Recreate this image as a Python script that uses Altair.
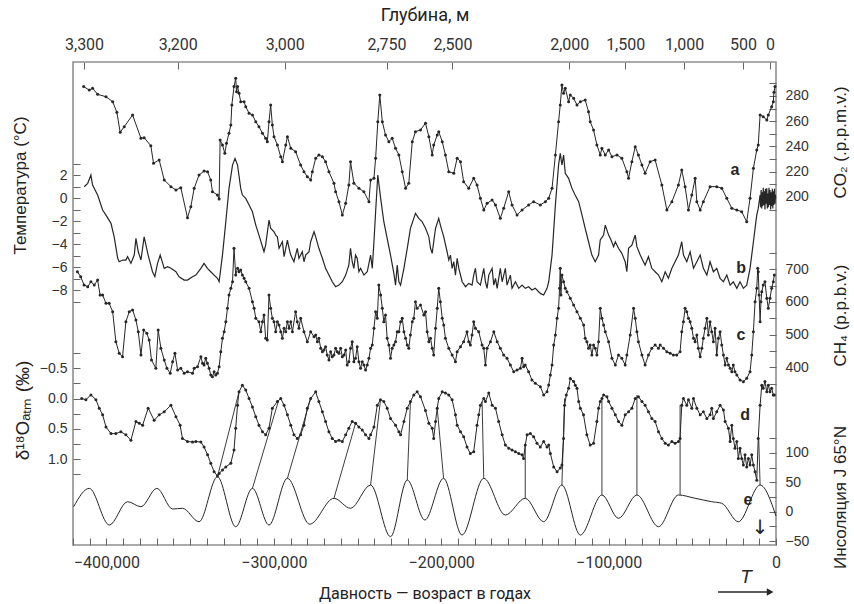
import altair as alt
import pandas as pd

# ---------------- data ----------------
DEPTH_LABELS = ["3,300", "3,200", "3,000", "2,750", "2,500", "2,000", "1,500", "1,000", "500", "0"]
DEPTH_AGE = [-413400, -357400, -293500, -232700, -193300, -123500, -90100, -54900, -19700, -3600]

# a: CO2 (ppmv), age in kyr
CO2_AGE = [-413.6, -410.3, -408.3, -405.3, -400.3, -396.3, -393.8, -391.8, -389.4, -384.4, -379.4, -377.5,
           -373.5, -371.9, -368.5, -365.5, -361.5, -358.5, -355.6, -351.6, -349.6, -347.6, -344.7, -341.7,
           -339.6, -337.7, -336.7, -333.7, -332.7, -332.1, -330.7, -329.3, -328.3, -326.8, -325.7, -325.1,
           -323.8, -322.8, -322.3, -321.7, -320.8, -319.8, -317.8, -316.8, -314.8, -312.8, -310.8, -308.9,
           -306.8, -304.9, -303.9, -302.9, -301.9, -300.9, -299.9, -297.9, -295.9, -294.9, -292.9, -291.9,
           -289.9, -287.0, -284.0, -282.0, -280.0, -278.0, -277.0, -275.0, -273.1, -271.0, -269.1, -267.1,
           -264.1, -263.1, -261.1, -259.1, -257.1, -255.2, -254.2, -252.2, -249.2, -246.2, -243.2, -242.2,
           -240.2, -239.2, -237.9, -236.7, -235.2, -233.3, -231.3, -229.3, -227.3, -225.3, -223.3, -221.3,
           -219.4, -217.3, -215.4, -212.4, -209.4, -207.4, -205.4, -204.5, -202.4, -201.5, -199.4, -197.5,
           -195.5, -192.5, -190.5, -188.5, -186.6, -183.6, -180.6, -178.6, -176.6, -174.6, -172.6, -169.6,
           -167.6, -164.7, -162.7, -159.7, -157.7, -154.7, -151.7, -147.8, -144.8, -140.8, -137.8, -135.8,
           -133.8, -131.8, -129.9, -128.9, -127.9, -126.9, -125.9, -123.9, -122.9, -120.9, -118.9, -116.9,
           -114.0, -112.0, -111.0, -109.0, -107.0, -105.0, -104.0, -102.0, -100.0, -98.0, -95.0, -92.1,
           -89.1, -88.1, -86.1, -84.1, -82.2, -80.1, -78.2, -75.2, -72.2, -68.2, -65.2, -62.2,
           -58.3, -56.3, -54.3, -52.3, -50.3, -48.3, -47.3, -45.3, -43.4, -39.4, -35.4, -32.4,
           -29.4, -26.4, -23.4, -20.5, -17.5, -15.5, -13.5, -11.5, -10.6, -9.5, -7.6, -5.5,
           -4.6, -2.6, -1.6, -1.2, -0.6]
CO2_PPMV = [287.4, 284.7, 286.1, 281.3, 279.4, 275.5, 267.1, 251.2, 255.7, 264.9, 246.5, 247.0,
            240.6, 226.7, 229.3, 213.5, 208.2, 205.5, 207.4, 183.6, 192.3, 206.9, 217.4, 220.6,
            220.0, 213.5, 204.2, 201.6, 198.4, 245.1, 241.2, 234.6, 242.5, 250.5, 257.0, 272.9,
            287.4, 294.0, 283.4, 287.4, 282.1, 275.5, 275.5, 271.5, 266.3, 264.9, 259.6, 255.7,
            250.5, 246.5, 243.8, 259.6, 272.9, 257.0, 247.8, 241.2, 231.9, 228.0, 241.2, 247.8,
            238.6, 235.9, 225.3, 220.0, 216.1, 213.5, 220.0, 230.7, 233.3, 231.9, 228.0, 220.0,
            210.9, 204.2, 196.3, 185.7, 195.0, 209.5, 228.0, 210.9, 206.9, 204.2, 196.3, 213.5,
            214.8, 230.7, 259.6, 280.8, 259.6, 249.1, 243.8, 246.5, 238.6, 233.3, 220.0, 206.9,
            210.9, 243.8, 251.7, 253.1, 258.4, 247.8, 233.3, 241.2, 249.1, 251.7, 243.8, 233.3,
            220.0, 218.8, 230.7, 228.0, 212.1, 206.9, 214.8, 209.5, 199.0, 189.7, 195.0, 197.6,
            193.7, 183.1, 191.0, 204.2, 193.7, 185.7, 189.7, 193.7, 196.3, 193.7, 196.3, 199.0,
            206.9, 233.3, 259.6, 272.9, 288.7, 282.1, 286.1, 275.5, 280.8, 278.2, 272.9, 275.5,
            276.8, 267.6, 259.6, 253.1, 241.2, 233.3, 238.6, 233.3, 237.2, 231.9, 233.3, 230.7,
            220.0, 214.8, 228.0, 239.8, 233.3, 225.3, 218.8, 228.0, 229.3, 209.5, 189.7, 196.3,
            209.5, 221.4, 208.2, 189.7, 201.6, 214.8, 196.3, 189.7, 196.3, 208.2, 208.2, 206.9,
            199.0, 191.0, 189.7, 188.4, 180.4, 199.0, 222.7, 237.2, 241.2, 264.9, 263.6, 261.0,
            264.9, 271.5, 275.5, 283.0, 287.4]

# b: temperature anomaly (deg C)
TEMP_AGE = [-413.3, -411.2, -409.3, -408.3, -405.3, -402.3, -400.3, -397.3, -395.4, -393.3, -392.4, -390.4,
            -388.4, -387.4, -385.4, -383.4, -382.4, -381.0, -379.4, -377.5, -375.1, -372.5, -371.1, -369.5,
            -367.9, -365.5, -363.5, -361.5, -358.5, -356.6, -353.6, -351.6, -348.6, -346.6, -343.6, -341.7,
            -339.7, -337.7, -335.7, -333.7, -332.7, -330.7, -328.7, -326.8, -324.7, -323.2, -321.7, -319.8,
            -318.8, -316.8, -314.8, -312.8, -310.8, -308.9, -305.9, -304.9, -302.9, -301.9, -299.9, -298.9,
            -297.9, -296.9, -294.9, -293.9, -291.9, -290.9, -289.9, -288.0, -286.0, -285.0, -283.0, -282.0,
            -281.0, -279.0, -278.0, -276.0, -275.0, -273.1, -271.0, -269.1, -267.1, -265.1, -263.1, -261.1,
            -259.1, -257.1, -255.2, -254.2, -253.2, -252.2, -251.2, -250.2, -249.2, -248.2, -246.2, -244.2,
            -242.2, -241.2, -240.2, -239.2, -237.9, -236.2, -234.3, -232.3, -230.3, -228.3, -227.3, -226.3,
            -225.3, -224.3, -222.3, -220.3, -218.4, -216.4, -215.4, -213.4, -211.4, -209.4, -207.4, -206.4,
            -205.4, -204.5, -203.4, -201.5, -200.5, -198.5, -196.5, -195.5, -194.5, -193.5, -192.5, -191.5,
            -190.5, -189.5, -187.5, -185.5, -183.6, -181.6, -180.6, -179.6, -178.6, -176.6, -174.6, -173.6,
            -172.6, -171.6, -169.6, -168.6, -167.6, -166.6, -164.7, -163.6, -161.7, -160.7, -158.7, -157.7,
            -155.7, -153.7, -151.7, -149.8, -147.8, -145.8, -143.8, -140.8, -138.8, -136.8, -135.8, -133.8,
            -131.8, -129.9, -128.9, -127.9, -126.9, -125.9, -123.9, -121.9, -120.0, -117.9, -115.9, -114.0,
            -112.0, -110.0, -108.0, -106.0, -105.0, -103.0, -102.0, -100.0, -99.0, -97.0, -96.0, -94.1,
            -92.1, -90.1, -89.1, -88.1, -86.1, -85.1, -84.1, -83.1, -81.1, -79.2, -78.2, -76.2,
            -74.2, -72.2, -70.2, -68.2, -66.2, -64.3, -62.2, -60.3, -58.3, -56.3, -55.3, -53.3,
            -51.3, -49.3, -47.3, -45.3, -43.4, -41.3, -39.4, -37.4, -35.4, -33.4, -31.4, -29.4,
            -27.4, -25.5, -23.4, -21.5, -19.5, -17.5, -15.5, -14.5, -13.5, -12.5, -11.5, -10.6,
            -9.5, -9.2, -8.9, -8.5, -8.2, -7.9, -7.6, -7.3, -6.9, -6.6, -6.3, -5.9,
            -5.5, -5.2, -4.9, -4.6, -4.2, -3.9, -3.6, -3.2, -2.9, -2.6, -2.2, -1.9,
            -1.6, -1.3, -0.9, -0.6, -0.3]
TEMP_C = [0.98, 1.28, 2.0, 1.13, 0.26, -1.04, -1.48, -2.2, -3.37, -5.24, -5.54, -5.39,
          -5.39, -5.1, -5.68, -4.96, -3.5, -4.67, -5.39, -3.37, -4.96, -6.41, -6.84, -5.68,
          -4.96, -6.11, -5.97, -6.11, -6.41, -6.84, -7.13, -7.13, -6.84, -6.7, -6.11, -5.68,
          -6.11, -6.41, -6.7, -6.98, -7.28, -4.96, -2.06, 0.84, 2.87, 3.45, 2.87, 0.84,
          0.26, -0.03, -0.61, -1.19, -2.35, -3.22, -4.67, -4.09, -1.91, -2.63, -2.93, -3.22,
          -3.37, -4.37, -3.8, -5.1, -3.65, -4.37, -4.96, -5.54, -4.37, -5.24, -4.67, -5.54,
          -4.96, -4.67, -3.8, -2.93, -3.37, -4.37, -5.24, -6.11, -6.7, -7.28, -7.71, -7.57,
          -7.28, -6.7, -5.83, -4.37, -5.54, -6.11, -4.96, -5.24, -6.41, -6.11, -6.7, -6.41,
          -4.96, -6.11, -3.8, -1.19, 2.0, -0.03, -2.06, -3.5, -4.96, -6.55, -7.57, -5.83,
          -7.28, -7.57, -6.11, -4.37, -2.63, -1.77, -1.33, -1.77, -2.06, -2.63, -3.37, -4.37,
          -4.81, -3.8, -2.63, -1.77, -2.35, -3.37, -4.67, -5.39, -4.96, -6.11, -5.54, -6.7,
          -5.24, -6.11, -7.28, -7.71, -7.42, -7.57, -6.7, -6.11, -7.28, -7.57, -6.11, -7.28,
          -7.85, -6.7, -6.11, -7.57, -6.98, -7.85, -6.11, -7.28, -6.11, -7.57, -6.7, -7.85,
          -7.28, -7.85, -7.57, -7.85, -7.71, -8.0, -7.85, -8.29, -8.43, -7.85, -7.28, -4.96,
          -0.61, 2.87, 3.89, 2.87, 3.74, 2.15, 1.71, 0.84, 0.26, -0.32, -1.48, -2.63,
          -3.8, -4.96, -5.54, -4.96, -3.65, -3.22, -2.35, -3.22, -3.5, -4.23, -3.8, -4.37,
          -4.81, -5.54, -6.41, -4.37, -4.09, -3.65, -3.22, -4.23, -4.96, -5.54, -5.83, -5.1,
          -6.11, -6.41, -6.7, -7.28, -6.41, -6.98, -6.11, -5.54, -4.96, -3.8, -4.96, -5.54,
          -4.67, -6.11, -5.54, -4.96, -6.11, -6.7, -5.54, -6.41, -6.11, -6.98, -7.28, -6.7,
          -7.57, -7.28, -7.85, -7.28, -7.85, -7.57, -6.11, -4.96, -3.8, -2.63, -1.48, -0.9,
          0.26, -0.8, 0.7, -0.9, 0.5, -0.7, 0.9, -0.6, 0.6, -1.0, 0.8, -0.5,
          0.84, -0.9, 0.4, -0.8, 0.9, -0.6, 0.7, -1.0, 0.5, -0.7, 0.8, -0.9,
          0.6, -0.6, 0.8, -0.5, 0.3]

# c: CH4 (ppbv)
CH4_AGE = [-417.4, -415.4, -413.4, -411.2, -409.3, -407.3, -405.3, -403.8, -402.3, -400.3, -398.4, -396.3,
           -394.4, -392.4, -390.4, -388.4, -386.4, -384.4, -382.4, -381.0, -379.4, -377.8, -375.9, -374.5,
           -373.1, -370.5, -369.1, -367.5, -365.5, -363.9, -361.9, -360.5, -359.1, -357.5, -355.6, -353.6,
           -351.6, -348.6, -347.6, -345.6, -343.6, -342.6, -341.7, -340.7, -339.7, -338.7, -337.7, -336.7,
           -335.7, -334.7, -333.7, -332.7, -331.7, -330.7, -329.7, -328.7, -327.7, -326.8, -325.7, -324.7,
           -323.8, -322.8, -321.7, -320.8, -319.8, -318.8, -317.8, -316.8, -314.8, -312.8, -311.8, -310.8,
           -308.9, -307.8, -306.8, -305.9, -304.9, -303.9, -302.9, -301.9, -300.9, -299.9, -298.9, -297.9,
           -296.9, -295.9, -294.9, -293.9, -292.9, -291.9, -290.9, -289.9, -288.9, -287.0, -286.0, -285.0,
           -284.0, -282.0, -280.0, -278.0, -276.0, -275.0, -274.0, -273.1, -272.0, -271.0, -270.1, -269.1,
           -268.1, -267.1, -266.1, -265.1, -264.1, -263.1, -262.1, -261.1, -260.1, -259.1, -258.1, -257.1,
           -256.2, -255.2, -254.2, -253.2, -252.2, -251.2, -250.2, -249.2, -248.2, -247.2, -246.2, -245.2,
           -244.2, -243.2, -242.2, -241.2, -240.2, -239.2, -238.2, -237.3, -236.2, -235.2, -234.3, -233.3,
           -232.3, -231.3, -230.3, -229.3, -228.3, -227.3, -226.3, -225.3, -224.3, -223.3, -222.3, -221.3,
           -220.3, -219.4, -218.4, -217.3, -216.4, -215.4, -214.4, -212.4, -210.4, -209.4, -208.4, -207.4,
           -206.4, -205.4, -204.5, -203.4, -202.4, -201.5, -200.5, -199.4, -198.5, -197.5, -195.5, -193.5,
           -191.5, -190.5, -188.5, -186.6, -184.6, -183.6, -182.6, -181.6, -180.6, -179.6, -177.6, -175.6,
           -174.6, -173.6, -172.6, -170.6, -168.6, -166.6, -164.7, -162.7, -160.7, -158.7, -156.7, -154.7,
           -152.7, -151.7, -150.8, -149.8, -147.8, -145.8, -143.8, -140.8, -138.8, -136.8, -135.8, -134.8,
           -133.8, -132.8, -131.8, -130.8, -129.9, -129.3, -128.9, -128.5, -127.9, -126.9, -125.9, -124.9,
           -122.9, -120.9, -118.9, -116.9, -114.9, -114.0, -113.0, -112.0, -111.0, -110.0, -109.0, -108.0,
           -107.0, -106.0, -105.0, -104.0, -103.0, -102.0, -100.0, -98.0, -96.0, -94.1, -92.1, -90.1,
           -89.1, -87.1, -85.1, -84.1, -83.1, -82.2, -80.1, -78.2, -76.2, -74.2, -72.2, -70.2,
           -69.2, -67.2, -65.2, -63.2, -61.3, -59.3, -57.3, -56.3, -55.3, -54.3, -53.3, -52.3,
           -51.3, -50.3, -49.3, -48.3, -47.3, -46.4, -45.3, -44.3, -43.4, -42.4, -41.3, -40.4,
           -39.4, -38.4, -37.4, -36.4, -35.4, -34.4, -33.4, -32.4, -31.4, -30.4, -29.4, -28.4,
           -27.4, -26.4, -25.5, -24.5, -23.4, -21.5, -19.5, -17.5, -15.5, -14.5, -13.5, -12.5,
           -11.5, -10.9, -10.6, -10.1, -9.5, -9.0, -8.5, -7.6, -6.6, -5.5, -4.6, -3.6,
           -2.6, -1.6, -1.0]
CH4_PPBV = [692.6, 677.3, 651.9, 646.7, 662.0, 651.9, 667.2, 621.3, 621.3, 595.9, 595.9, 570.2,
            478.4, 442.9, 432.4, 539.6, 570.2, 575.4, 544.8, 509.0, 437.7, 514.2, 504.1, 483.6,
            422.3, 396.9, 514.2, 458.2, 422.3, 396.9, 381.6, 417.1, 442.9, 391.7, 396.9, 381.6,
            386.5, 381.6, 396.9, 401.8, 432.4, 412.2, 407.0, 427.5, 412.2, 396.9, 376.4, 371.2,
            386.5, 376.4, 381.6, 401.8, 447.8, 488.8, 509.0, 539.6, 580.6, 621.3, 641.8, 662.0,
            764.3, 682.5, 703.0, 692.6, 697.8, 682.5, 672.4, 662.0, 641.8, 600.8, 580.6, 550.0,
            539.6, 509.0, 539.6, 560.1, 488.8, 483.6, 621.3, 580.6, 550.0, 539.6, 509.0, 539.6,
            529.5, 509.0, 488.8, 519.4, 509.0, 539.6, 519.4, 539.6, 509.0, 570.2, 539.6, 519.4,
            550.0, 509.0, 478.4, 509.0, 493.7, 498.9, 478.4, 488.8, 458.2, 447.8, 453.0, 463.1,
            437.7, 422.3, 447.8, 432.4, 437.7, 458.2, 447.8, 442.9, 458.2, 432.4, 437.7, 453.0,
            407.0, 417.1, 458.2, 478.4, 417.1, 427.5, 463.1, 417.1, 396.9, 417.1, 407.0, 391.7,
            407.0, 427.5, 458.2, 468.3, 519.4, 570.2, 550.0, 651.9, 621.3, 580.6, 539.6, 560.1,
            488.8, 468.3, 427.5, 458.2, 468.3, 478.4, 509.0, 509.0, 539.6, 550.0, 509.0, 488.8,
            468.3, 458.2, 498.9, 539.6, 550.0, 600.8, 580.6, 590.7, 560.1, 570.2, 509.0, 478.4,
            488.8, 458.2, 437.7, 519.4, 580.6, 641.8, 600.8, 550.0, 529.5, 488.8, 458.2, 437.7,
            417.1, 447.8, 463.1, 478.4, 509.0, 478.4, 468.3, 498.9, 539.6, 519.4, 509.0, 468.3,
            458.2, 407.0, 458.2, 478.4, 509.0, 478.4, 458.2, 437.7, 427.5, 407.0, 386.5, 391.7,
            396.9, 427.5, 401.8, 407.0, 386.5, 361.1, 351.0, 340.6, 315.2, 325.3, 345.8, 376.4,
            407.0, 468.3, 498.9, 550.0, 580.6, 641.8, 703.0, 621.3, 682.5, 662.0, 641.8, 631.4,
            611.2, 590.7, 570.2, 550.0, 529.5, 488.8, 478.4, 458.2, 468.3, 437.7, 468.3, 458.2,
            437.7, 478.4, 580.6, 550.0, 529.5, 509.0, 478.4, 427.5, 407.0, 437.7, 427.5, 407.0,
            437.7, 498.9, 580.6, 550.0, 509.0, 478.4, 437.7, 407.0, 437.7, 458.2, 468.3, 458.2,
            468.3, 458.2, 447.8, 442.9, 437.7, 437.7, 447.8, 509.0, 539.6, 580.6, 570.2, 550.0,
            539.6, 519.4, 488.8, 478.4, 498.9, 458.2, 432.4, 458.2, 488.8, 519.4, 550.0, 498.9,
            539.6, 509.0, 478.4, 519.4, 437.7, 488.8, 509.0, 468.3, 437.7, 407.0, 427.5, 407.0,
            396.9, 386.5, 407.0, 386.5, 376.4, 361.1, 355.9, 366.3, 386.5, 437.7, 509.0, 600.8,
            641.8, 703.0, 692.6, 621.3, 539.6, 600.8, 631.4, 651.9, 662.0, 611.2, 580.6, 611.2,
            641.8, 662.0, 682.5]

# d: delta-18O of atmospheric O2 (permil)
D18O_AGE = [-414.8, -412.3, -409.3, -406.3, -404.3, -402.3, -400.3, -397.3, -394.4, -391.4, -388.4, -385.4,
            -382.4, -380.4, -378.4, -375.1, -371.5, -368.5, -365.5, -361.5, -358.5, -356.0, -354.6, -351.6,
            -348.6, -346.6, -343.6, -341.7, -339.6, -337.7, -335.7, -333.7, -332.7, -330.7, -328.7, -325.7,
            -323.8, -322.8, -321.7, -320.8, -318.8, -316.8, -314.8, -312.8, -310.8, -308.9, -306.8, -304.9,
            -302.9, -300.9, -297.9, -295.9, -293.9, -291.9, -289.9, -288.0, -286.0, -284.0, -282.0, -280.0,
            -278.0, -275.0, -273.1, -271.0, -269.1, -267.1, -265.1, -263.1, -261.1, -259.1, -257.1, -255.2,
            -253.2, -251.2, -249.2, -247.2, -245.2, -243.2, -242.2, -240.2, -238.2, -236.3, -234.3, -232.3,
            -230.3, -227.3, -225.3, -224.3, -222.3, -220.3, -218.4, -216.4, -214.4, -212.4, -209.4, -207.4,
            -205.4, -204.5, -203.4, -202.4, -201.5, -199.4, -197.5, -195.5, -193.5, -191.5, -190.5, -188.5,
            -186.6, -184.6, -182.6, -180.6, -178.6, -177.6, -176.6, -174.6, -173.6, -171.6, -169.6, -167.6,
            -165.7, -163.6, -161.7, -159.7, -157.7, -155.7, -153.7, -151.7, -150.8, -149.8, -148.7, -146.8,
            -144.8, -142.8, -140.8, -138.8, -136.8, -135.8, -134.8, -132.8, -130.8, -128.9, -127.9, -126.9,
            -126.3, -125.3, -123.9, -122.9, -120.9, -119.9, -118.9, -117.9, -116.9, -115.0, -113.0, -111.0,
            -109.0, -107.0, -106.0, -105.0, -104.0, -103.0, -101.0, -100.0, -98.0, -96.0, -94.1, -92.1,
            -90.1, -88.1, -86.1, -84.1, -82.2, -80.1, -78.2, -76.2, -74.2, -72.2, -70.2, -68.2,
            -66.2, -64.3, -62.2, -60.3, -58.3, -57.3, -56.3, -55.3, -53.3, -52.3, -50.3, -49.3,
            -47.3, -45.3, -43.4, -41.3, -39.4, -38.4, -37.4, -35.4, -33.4, -31.4, -30.4, -28.4,
            -27.4, -26.4, -25.5, -24.5, -23.4, -22.5, -21.5, -20.5, -19.5, -18.5, -17.5, -16.5,
            -15.5, -14.5, -13.5, -12.5, -11.5, -10.6, -9.5, -8.5, -7.6, -6.6, -5.5, -4.6,
            -3.6, -2.6, -1.6, -1.0]
D18O_PERMIL = [0.00, 0.02, -0.06, 0.02, 0.16, 0.27, 0.47, 0.58, 0.58, 0.55, 0.60, 0.69,
               0.38, 0.41, 0.44, 0.16, 0.36, 0.27, 0.22, 0.11, 0.30, 0.44, 0.66, 0.71,
               0.72, 0.71, 0.72, 0.80, 0.93, 1.07, 1.21, 1.28, 1.24, 1.18, 1.13, 1.07,
               0.85, 0.49, 0.11, -0.11, -0.22, -0.14, 0.00, 0.14, 0.30, 0.44, 0.55, 0.60,
               0.49, 0.16, 0.05, 0.00, 0.11, 0.27, 0.44, 0.60, 0.66, 0.60, 0.44, 0.16,
               0.00, -0.11, 0.05, 0.22, 0.38, 0.55, 0.66, 0.71, 0.69, 0.71, 0.60, 0.49,
               0.38, 0.41, 0.47, 0.52, 0.60, 0.66, 0.60, 0.47, 0.11, 0.02, 0.05, 0.16,
               0.33, 0.44, 0.55, 0.60, 0.38, 0.16, 0.05, -0.06, -0.11, -0.03, 0.20, 0.41,
               0.49, 0.66, 0.38, 0.16, 0.00, -0.11, -0.09, -0.06, 0.02, 0.27, 0.44, 0.55,
               0.63, 0.80, 0.91, 0.88, 0.44, 0.27, 0.11, 0.00, 0.05, -0.09, 0.11, 0.16,
               0.38, 0.60, 0.77, 0.82, 0.85, 0.88, 0.91, 0.93, 0.99, 0.77, 0.60, 0.58,
               0.63, 0.74, 0.80, 0.71, 0.80, 0.77, 0.91, 1.13, 1.21, 1.15, 1.10, 0.66,
               0.11, -0.06, -0.17, -0.33, -0.28, -0.22, -0.17, 0.05, 0.16, 0.27, 0.60, 0.77,
               0.74, 0.38, 0.16, 0.05, 0.00, -0.06, -0.03, 0.05, 0.16, 0.27, 0.38, 0.44,
               0.27, 0.22, 0.16, 0.00, -0.03, 0.05, 0.11, 0.22, 0.33, 0.38, 0.55, 0.66,
               0.74, 0.77, 0.71, 0.74, 0.71, 0.66, 0.11, 0.00, 0.11, 0.02, 0.16, 0.00,
               0.16, 0.27, 0.22, 0.33, 0.27, 0.16, 0.33, 0.22, 0.11, 0.19, 0.38, 0.49,
               0.71, 0.44, 0.66, 0.82, 0.71, 0.99, 0.82, 0.99, 1.10, 0.93, 1.13, 0.99,
               1.10, 0.93, 1.10, 1.21, 1.35, 0.66, 0.11, -0.22, -0.17, -0.28, -0.11, -0.22,
               -0.11, -0.17, -0.06, -0.06]

# e: insolation J 65N anomaly (W/m2)
INSOL_AGE = [-419.6, -410.3, -398.3, -387.4, -379.4, -369.9, -360.5, -354.6, -344.7, -333.7, -322.8, -312.8,
             -302.9, -291.9, -278.6, -264.1, -254.2, -242.2, -230.3, -220.3, -209.8, -198.6, -187.6, -174.6,
             -161.7, -149.8, -138.8, -127.9, -116.9, -104.0, -94.1, -83.1, -70.2, -58.3, -48.3, -38.4,
             -32.4, -22.5, -9.5, 0.0]
INSOL_WM2 = [8.5, 39.7, -22.6, 17.0, 8.5, 39.7, 4.6, 5.8, -17.0, 59.4, -25.5, 39.7,
             -22.6, 56.7, -21.2, 22.8, 5.8, 45.3, -42.4, 53.8, -14.1, 56.7, -39.6, 56.7,
             -5.6, 22.8, -17.0, 45.3, -39.6, 28.4, -11.2, 28.4, -25.5, 28.4, 22.8, 17.0,
             14.3, -17.0, 45.3, -7.3]

# tie lines between curve d and curve e (expressed on the insolation scale)
TIE_AGE_TOP = [-320.8, -297.1, -278.0, -251.2, -236.3, -218.4, -202.4, -175.6, -149.8, -126.3, -104.0, -83.1, -57.3, -10.3]
TIE_VAL_TOP = [203.5, 189.6, 192.5, 150.1, 189.6, 186.8, 175.6, 186.8, 113.2, 192.5, 192.5, 198.1, 181.2, 121.7]
TIE_AGE_BOT = [-333.7, -312.8, -291.9, -264.1, -242.2, -220.3, -198.6, -174.6, -149.8, -127.9, -104.0, -83.1, -57.3, -9.5]
TIE_VAL_BOT = [59.4, 39.7, 56.7, 22.8, 45.3, 53.8, 56.7, 56.7, 22.8, 45.3, 28.4, 28.4, 28.4, 45.3]

# curve letters: (label, age kyr, value on the curve's own scale)
LETTER_A = ("a", -24.5, 221.4)
LETTER_B = ("b", -20.9, -6.09)
LETTER_C = ("c", -20.9, 498.9)
LETTER_D = ("d", -18.5, 0.273)
LETTER_E = ("e", -16.7, 19.9)

# ---------------- scales ----------------
X_DOM = [-420000, 0]
CO2_DOM = [-75.6, 306.9]
TEMP_DOM = [-30.17, 11.83]
CH4_DOM = [-143.9, 1334.5]
D18O_DOM = [-5.562, 2.421]
INS_DOM = [-56.5, 763.5]

NUM_FONT = "Liberation Sans, Arial, sans-serif"
NARROW_FONT = "Liberation Sans Narrow, Roboto, sans-serif"
INK = "#262626"
TICK = "#666666"


def frame(ages, vals):
    return pd.DataFrame({"t": [a * 1000 for a in ages], "v": vals})


def xsc():
    return alt.Scale(domain=X_DOM, nice=False, zero=False)


def ysc(dom, reverse=False):
    if reverse:
        return alt.Scale(domain=dom, nice=False, zero=False, reverse=True)
    return alt.Scale(domain=dom, nice=False, zero=False)


def yaxis(orient, values, test, fmt, title, tx, ty, tsize=17):
    left = orient == "left"
    return alt.Axis(
        orient=orient, values=values,
        labelExpr=f"({test}) ? format(datum.value, '{fmt}') : ''",
        offset=-7, tickSize=7, tickColor=TICK, tickWidth=1, domain=False, grid=False,
        labelPadding=6 if left else 9, labelFont=NUM_FONT, labelFontSize=14, labelColor="#333",
        labelOverlap=False, labelFlush=False,
        title=title, titleAngle=270, titleX=tx, titleY=ty, titleAlign="center", titleBaseline="middle",
        titleFont=NUM_FONT, titleFontSize=tsize, titleFontWeight="normal", titleColor="#222",
    )


bottom_axis = alt.Axis(
    orient="bottom", values=list(range(-420000, 1, 10000)),
    labelExpr="(datum.value % 100000 == 0) ? format(datum.value, ',') : ''",
    offset=-7, tickSize=7, tickColor=TICK, domain=False, grid=False,
    labelPadding=9, labelFont=NARROW_FONT, labelFontSize=16, labelColor="#333",
    labelOverlap=False, labelFlush=False,
    title="Давность — возраст в годах", titleY=55, titleBaseline="middle",
    titleFont=NARROW_FONT, titleFontSize=16, titleFontWeight="normal", titleColor="#222",
)

depth_expr = "".join(
    f"datum.value == {a} ? '{l}' : " for a, l in zip(DEPTH_AGE, DEPTH_LABELS)
) + "''"
top_axis = alt.Axis(
    orient="top", values=DEPTH_AGE, labelExpr=depth_expr,
    offset=-7, tickSize=7, tickColor=TICK, domain=False, grid=False,
    labelPadding=10, labelFont=NARROW_FONT, labelFontSize=16, labelColor="#333",
    labelOverlap=False, labelFlush=False,
    title="Глубина, м", titleY=-54, titleBaseline="middle",
    titleFont=NARROW_FONT, titleFontSize=18, titleFontWeight="normal", titleColor="#222",
)

# ---------------- layers ----------------
pt = alt.OverlayMarkDef(filled=True, size=9, color=INK)

co2 = alt.Chart(frame(CO2_AGE, CO2_PPMV)).mark_line(color=INK, strokeWidth=1, point=pt).encode(
    x=alt.X("t:Q", scale=xsc(), axis=bottom_axis),
    y=alt.Y("v:Q", scale=ysc(CO2_DOM), axis=yaxis(
        "right", list(range(190, 300, 10)),
        "datum.value % 20 == 0 && datum.value >= 200 && datum.value <= 280", "d",
        "CO₂ (.p.p.m.v.)", 71, 80)),
)

temp = alt.Chart(frame(TEMP_AGE, TEMP_C)).mark_line(color=INK, strokeWidth=1.2).encode(
    x=alt.X("t:Q", scale=xsc(), axis=top_axis),
    y=alt.Y("v:Q", scale=ysc(TEMP_DOM), axis=yaxis(
        "left", list(range(-9, 4)), "datum.value % 2 == 0", "d",
        "Температура (°C)", -60, 123)),
)

ch4 = alt.Chart(frame(CH4_AGE, CH4_PPBV)).mark_line(color=INK, strokeWidth=1, point=pt).encode(
    x=alt.X("t:Q", scale=xsc(), axis=None),
    y=alt.Y("v:Q", scale=ysc(CH4_DOM), axis=yaxis(
        "right", list(range(350, 751, 50)),
        "datum.value % 100 == 0 && datum.value >= 400 && datum.value <= 700", "d",
        "CH₄ (p.p.b.v.)", 71, 253)),
)

d18o = alt.Chart(frame(D18O_AGE, D18O_PERMIL)).mark_line(color=INK, strokeWidth=1, point=pt).encode(
    x=alt.X("t:Q", scale=xsc(), axis=None),
    y=alt.Y("v:Q", scale=ysc(D18O_DOM, reverse=True), axis=yaxis(
        "left", [-0.75, -0.5, -0.25, 0.0, 0.25, 0.5, 0.75, 1.0, 1.25],
        "abs(datum.value * 2 - round(datum.value * 2)) < 0.000001", ".1f",
        "δ¹⁸Oₐₜₘ (‰)", -58, 348, 19)),
)

insol = alt.Chart(frame(INSOL_AGE, INSOL_WM2)).mark_line(color=INK, strokeWidth=1, interpolate="monotone").encode(
    x=alt.X("t:Q", scale=xsc(), axis=None),
    y=alt.Y("v:Q", scale=ysc(INS_DOM), axis=yaxis(
        "right", list(range(-50, 126, 25)),
        "datum.value % 50 == 0 && datum.value <= 100", "d",
        "Инсоляция J 65°N", 71, 435)),
)

ties_df = pd.DataFrame({
    "t": [a * 1000 for a in TIE_AGE_TOP], "t2": [a * 1000 for a in TIE_AGE_BOT],
    "v": TIE_VAL_TOP, "v2": TIE_VAL_BOT,
})
ties = alt.Chart(ties_df).mark_rule(color=INK, strokeWidth=0.9).encode(
    x=alt.X("t:Q", scale=xsc(), axis=None), x2="t2:Q",
    y=alt.Y("v:Q", scale=ysc(INS_DOM), axis=None), y2="v2:Q",
)


def letter(spec, dom, reverse=False):
    lab, age, val = spec
    df = pd.DataFrame({"t": [age * 1000], "v": [val], "lab": [lab]})
    return alt.Chart(df).mark_text(font=NUM_FONT, fontSize=16, fontWeight="bold", color=INK,
                                   align="center", baseline="middle").encode(
        x=alt.X("t:Q", scale=xsc(), axis=None),
        y=alt.Y("v:Q", scale=ysc(dom, reverse), axis=None),
        text="lab:N",
    )


down_arrow = alt.Chart(pd.DataFrame({"t": [-9500], "v": [-27.7], "lab": ["↓"]})).mark_text(
    font="DejaVu Sans", fontSize=20, color=INK, align="center", baseline="middle").encode(
    x=alt.X("t:Q", scale=xsc(), axis=None),
    y=alt.Y("v:Q", scale=ysc(INS_DOM), axis=None),
    text="lab:N",
)

t_label = alt.Chart(pd.DataFrame({"t": [-17900], "lab": ["T"]})).mark_text(
    font=NUM_FONT, fontSize=19, fontStyle="italic", color=INK, align="center", baseline="middle").encode(
    x=alt.X("t:Q", scale=xsc(), axis=None),
    y=alt.value(515),
    text="lab:N",
)

t_arrow = alt.Chart(pd.DataFrame({"t": [-34600], "t2": [-4000]})).mark_rule(color=INK, strokeWidth=1.3).encode(
    x=alt.X("t:Q", scale=xsc(), axis=None), x2="t2:Q", y=alt.value(530),
)
t_head = alt.Chart(pd.DataFrame({"t": [-3500]})).mark_point(
    shape="triangle-right", filled=True, size=60, color=INK, opacity=1).encode(
    x=alt.X("t:Q", scale=xsc(), axis=None), y=alt.value(530),
)

chart = alt.layer(
    co2, temp, ch4, d18o, insol, ties,
    letter(LETTER_A, CO2_DOM), letter(LETTER_B, TEMP_DOM), letter(LETTER_C, CH4_DOM),
    letter(LETTER_D, D18O_DOM, True), letter(LETTER_E, INS_DOM),
    down_arrow, t_label, t_arrow, t_head,
).resolve_scale(y="independent").resolve_axis(x="independent", y="independent").properties(
    width=703, height=483,
    autosize=alt.AutoSizeParams(type="none"),
    padding={"left": 73, "top": 62, "right": 78, "bottom": 59},
    background="white",
).configure_view(stroke="#8f8f8f", strokeWidth=1.6)

chart.save("out.html", embed_options={"renderer": "svg", "actions": False})
